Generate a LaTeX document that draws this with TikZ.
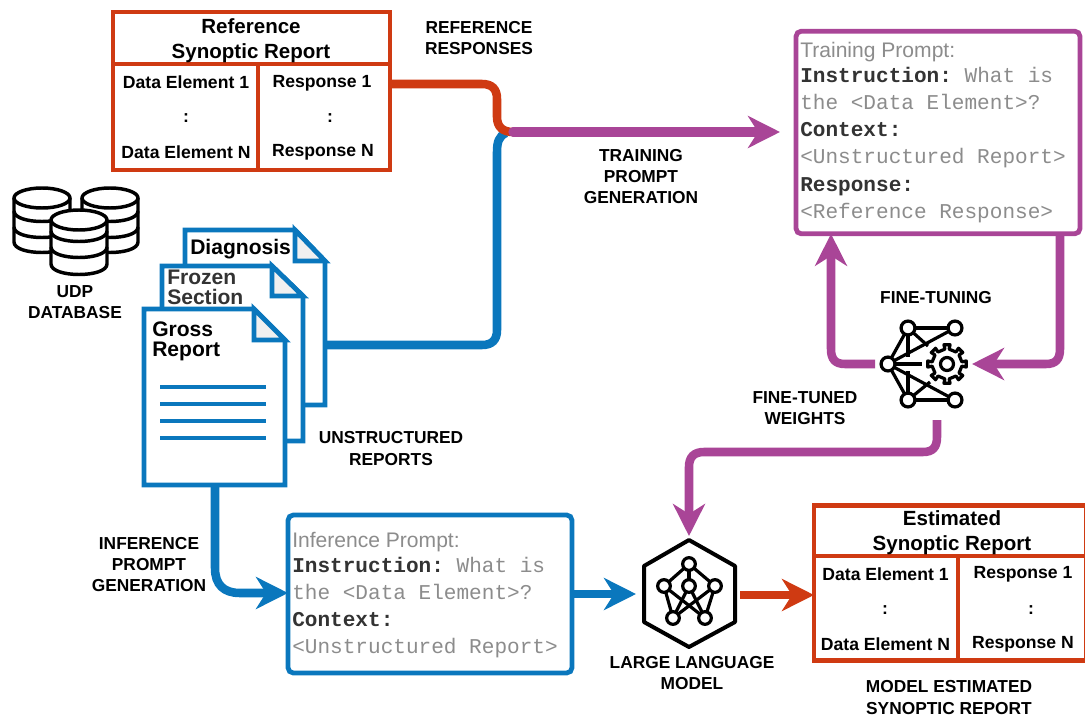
\documentclass[tikz,border=0pt]{standalone}
\usepackage{fontspec}
\setmainfont{Liberation Sans}
\setmonofont{Liberation Mono}
\usetikzlibrary{arrows.meta,calc}
\definecolor{cred}{HTML}{CF3A12}
\definecolor{cblue}{HTML}{0A77BD}
\definecolor{cpurple}{HTML}{A94597}
\definecolor{cgrey}{HTML}{8C8C8C}
\definecolor{cfold}{HTML}{F0F0F0}
\newcommand{\pxsize}[2]{\fontsize{#1}{#2}\selectfont}
\newcommand{\dbcyl}[5]{% x, top y, band2, band3, bottom (ellipse centre ys)
  \fill[white] (#1-28,#2) -- (#1-28,#5) arc[start angle=180,end angle=360,x radius=28,y radius=-10] -- (#1+28,#2) -- cycle;
  \draw[iconline,fill=white] (#1,#2) ellipse[x radius=28,y radius=10];
  \draw[iconline] (#1-28,#2) -- (#1-28,#5) .. controls (#1-28,#5+14) and (#1+28,#5+14) .. (#1+28,#5) -- (#1+28,#2);
  \draw[iconline] (#1-28,#3) .. controls (#1-28,#3+14) and (#1+28,#3+14) .. (#1+28,#3);
  \draw[iconline] (#1-28,#4) .. controls (#1-28,#4+14) and (#1+28,#4+14) .. (#1+28,#4);
}
\newcommand{\docshape}[7]{% name, x0,y0,x1,y1,foldx,foldy
  \node[docbox,minimum width={(#4-#2)*.75pt},minimum height={(#5-#3)*.75pt}] (#1) at ({(#2+#4)/2},{(#3+#5)/2}) {};
  \draw[docline,fill=white] (#2,#3) -- (#6,#3) -- (#4,#7) -- (#4,#5) -- (#2,#5) -- cycle;
  \draw[docline,fill=cfold] (#6,#3) -- (#6,#7) -- (#4,#7) -- cycle;
}
\tikzset{
  x=.75pt,y=-.75pt,
  iconline/.style={draw=black,line width=2.6pt,line join=round},
  docline/.style={draw=cblue,line width=3.6pt,line join=miter},
  docbox/.style={inner sep=0pt,outer sep=0pt},
  tablebox/.style={draw=cred,line width=3.4pt,inner sep=0pt,outer sep=0pt,fill=white},
  tableline/.style={draw=cred,line width=3.2pt},
  promptbox/.style={line width=3.6pt,rounded corners=4pt,inner sep=0pt,outer sep=0pt,fill=white},
  lbl/.style={font=\bfseries\pxsize{13}{15.9},align=center,inner sep=0pt,text=black},
  tabletitle/.style={font=\bfseries\pxsize{15.4}{18.8},align=center,inner sep=0pt},
  tablecell/.style={font=\bfseries\pxsize{13.2}{16},align=center,inner sep=0pt},
  doctitle/.style={font=\bfseries\pxsize{15.8}{15},align=left,inner sep=0pt,anchor=north west},
  prompttext/.style={align=left,inner sep=0pt,anchor=north west,text=cgrey,font=\ttfamily\pxsize{15.8}{20.4}},
  flow/.style={line width=6.4pt,line cap=butt},
  flowhead/.style={-{Stealth[length=24pt,width=24pt,inset=7.5pt]}},
  unode/.style={circle,draw=black,line width=2.4pt,fill=white,inner sep=0pt,outer sep=0pt},
  edgeline/.style={draw=black,line width=2.4pt},
}
\newcommand{\ptitle}[1]{{\rmfamily\pxsize{15.8}{19}#1}}
\newcommand{\pkey}[1]{{\bfseries\color{black!80}#1}}
\begin{document}
\begin{tikzpicture}
\useasboundingbox (0,0) rectangle (1085,717);

% ---- connector helper coordinates
\coordinate (junction) at (513,132);
\coordinate (ry) at (0,84);
\coordinate (by) at (0,345);

% ---- reference table
\node[tablebox,minimum width=207.75pt,minimum height=118.5pt] (ref) at (251.5,91) {};
\draw[tableline] (ref.west |- 0,64) -- (ref.east |- 0,64);
\draw[tableline] (258,64) -- (258,170);
\node[tabletitle] (reftitle) at (251,40.5) {Reference\\Synoptic Report};
\node[tablecell] (refa) at (186,82.5) {Data Element 1};
\node[tablecell] (refb) at (186,118) {:};
\node[tablecell] (refc) at (186,152) {Data Element N};
\node[tablecell] (refd) at (322,83) {Response 1};
\node[tablecell] (refe) at (330,118) {:};
\node[tablecell] (reff) at (323,152) {Response N};

% ---- estimated table
\node[tablebox,minimum width=204pt,minimum height=116.25pt] (est) at (950,583) {};
\draw[tableline] (est.west |- 0,556) -- (est.east |- 0,556);
\draw[tableline] (958,556) -- (958,661);
\node[tabletitle] (esttitle) at (952,533) {Estimated\\Synoptic Report};
\node[tablecell] (esta) at (885.5,574) {Data Element 1};
\node[tablecell] (estb) at (885,610) {:};
\node[tablecell] (estc) at (885.5,644.5) {Data Element N};
\node[tablecell] (estd) at (1023,574) {Response 1};
\node[tablecell] (este) at (1031,610) {:};
\node[tablecell] (estf) at (1023,644.5) {Response N};

% ---- prompts
\node[promptbox,draw=cpurple,minimum width=213pt,minimum height=152pt] (train) at (938,132.5) {};
\node[prompttext] (traintext) at (800,41.5) {\ptitle{Training Prompt:}\\[-1.4pt]
\pkey{Instruction:} What is\\
the <Data Element>?\\
\pkey{Context:}\\
<Unstructured Report>\\
\pkey{Response:}\\
<Reference Response>};

\node[promptbox,draw=cblue,minimum width=213pt,minimum height=118.5pt] (inf) at (430,594) {};
\node[prompttext] (inftext) at (292,531.5) {\ptitle{Inference Prompt:}\\[-1.4pt]
\pkey{Instruction:} What is\\
the <Data Element>?\\
\pkey{Context:}\\
<Unstructured Report>};

% ---- database icon
\dbcyl{42}{198}{211}{227}{242}
\dbcyl{110}{198}{211}{227}{242}
\dbcyl{79}{220}{231}{247}{264}

% ---- documents
\docshape{diag}{185}{230}{325}{405}{295}{261}
\docshape{froz}{162}{266}{303}{441}{272}{296}
\docshape{gross}{144}{309}{285}{485}{254}{340}
\node[doctitle] (diagt) at (190,238.5) {Diagnosis};
\node[doctitle,text=black!80] (frozt) at (167,270) {Frozen\\Section};
\node[doctitle] (grosst) at (152,322) {Gross\\Report};
\foreach \yy in {387,404,421,438} \draw[cblue,line width=2.3pt] (160,\yy) -- (266,\yy);

% ---- LLM hexagon
\coordinate (hn) at (689,540);
\draw[iconline,line width=3pt,fill=white] (hn) -- (735,566) -- (735,622) -- (689,647) -- (644,622) -- (644,566) -- cycle;
\node[unode,minimum size=9.5pt] (t) at (689,564) {};
\node[unode,minimum size=9.5pt] (l) at (664,586) {};
\node[unode,minimum size=9.5pt] (c) at (689,586) {};
\node[unode,minimum size=9.5pt] (r) at (715,586) {};
\node[unode,minimum size=9.5pt] (bl) at (673,618) {};
\node[unode,minimum size=9.5pt] (br) at (705,618) {};
\foreach \a/\b in {t/l,t/c,t/r,l/bl,r/br,l/br,r/bl,c/bl,c/br}
  \draw[edgeline] (\a) -- (\b);
\node[lbl] (llm) at (692,673) {LARGE LANGUAGE\\MODEL};

% ---- fine-tuning icon
\node[unode,minimum size=10.4pt] (f1) at (908,328) {};
\node[unode,minimum size=10.4pt] (f2) at (955,328) {};
\node[unode,minimum size=10.4pt] (f3) at (888,364) {};
\node[unode,minimum size=10.4pt] (f4) at (908,400) {};
\node[unode,minimum size=10.4pt] (f5) at (955,400) {};
\coordinate (g1) at (908,357); \coordinate (g2) at (908,371);
\coordinate (g3) at (928,346); \coordinate (g4) at (930,382);
\coordinate (g5) at (922,364);
\draw[edgeline] (f1) -- (f2);
\draw[edgeline] (f4) -- (f5);
\draw[edgeline] (f3) -- (f1);
\draw[edgeline] (f3) -- (f4);
\draw[edgeline] (f3) -- (f2);
\draw[edgeline] (f3) -- (f5);
\draw[edgeline] (f1) -- (g1);
\draw[edgeline] (f4) -- (g2);
\draw[edgeline] (f1) -- (g3);
\draw[edgeline] (f4) -- (g4);
\draw[edgeline] (f3) -- (g5);
\begin{scope}[shift={(947,364)}]
\fill[white] (0,0) circle[radius=22];
\draw[edgeline,line join=round] (-8:15)
  \foreach \i in {0,45,...,315} {
    -- ({\i-8}:15) -- ({\i-9}:19.5) -- ({\i+9}:19.5) -- ({\i+8}:15) -- ({\i+37}:15)
  } -- cycle;
\draw[edgeline] (0,0) circle[radius=6.5];
\end{scope}

% ---- connectors
\draw[flow,draw=cblue] (diag.east |- by) -- (482,345) .. controls (492,345) and (497,340) .. (497,330)
  -- (497,152) .. controls (497,142) and (499,136) .. (506,133);
\draw[flow,draw=cred] (ref.east |- ry) -- (482,84) .. controls (492,84) and (497,89) .. (497,99)
  -- (497,117) .. controls (497,127) and (503,132) .. (junction);
\draw[flow,draw=cpurple,flowhead,line cap=round,line width=7pt] (junction) -- (780,132);
\coordinate (fa) at (875,364);
\coordinate (fb) at (972,364);
\coordinate (fc) at (937,420);
\draw[flow,draw=cpurple,flowhead] (fa) -- (845,364) .. controls (835,364) and (831,359) .. (831,349) -- (train.south -| 831,0);
\draw[flow,draw=cpurple,flowhead] (train.south -| 1060,0) -- (1060,349) .. controls (1060,359) and (1056,364) .. (1046,364) -- (fb);
\draw[flow,draw=cpurple,flowhead] (fc) -- (937,437) .. controls (937,447) and (933,452) .. (923,452) -- (704,452) .. controls (694,452) and (689,457) .. (689,467) -- (689,536);
\draw[flow,draw=cblue,flowhead] (215,485) -- (215,568) .. controls (215,585) and (224,593) .. (240,593) -- (inf.west |- 0,593);
\draw[flow,draw=cblue,flowhead] (inf.east |- 0,594) -- (636,594);
\draw[flow,draw=cred,flowhead] (740,595) -- (est.west |- 0,595);

% ---- labels
\node[lbl] (lrr) at (479,38) {REFERENCE\\RESPONSES};
\node[lbl] (ltp) at (641,176.5) {TRAINING\\PROMPT\\GENERATION};
\node[lbl] (ldb) at (75,302) {UDP\\DATABASE};
\node[lbl] (lft) at (936,298) {FINE-TUNING};
\node[lbl] (lfw) at (805,408.5) {FINE-TUNED\\WEIGHTS};
\node[lbl] (lur) at (391,448.5) {UNSTRUCTURED\\REPORTS};
\node[lbl] (lip) at (149,564.5) {INFERENCE\\PROMPT\\GENERATION};
\node[lbl] (lme) at (949,697.5) {MODEL ESTIMATED\\SYNOPTIC REPORT};
\end{tikzpicture}
\end{document}
